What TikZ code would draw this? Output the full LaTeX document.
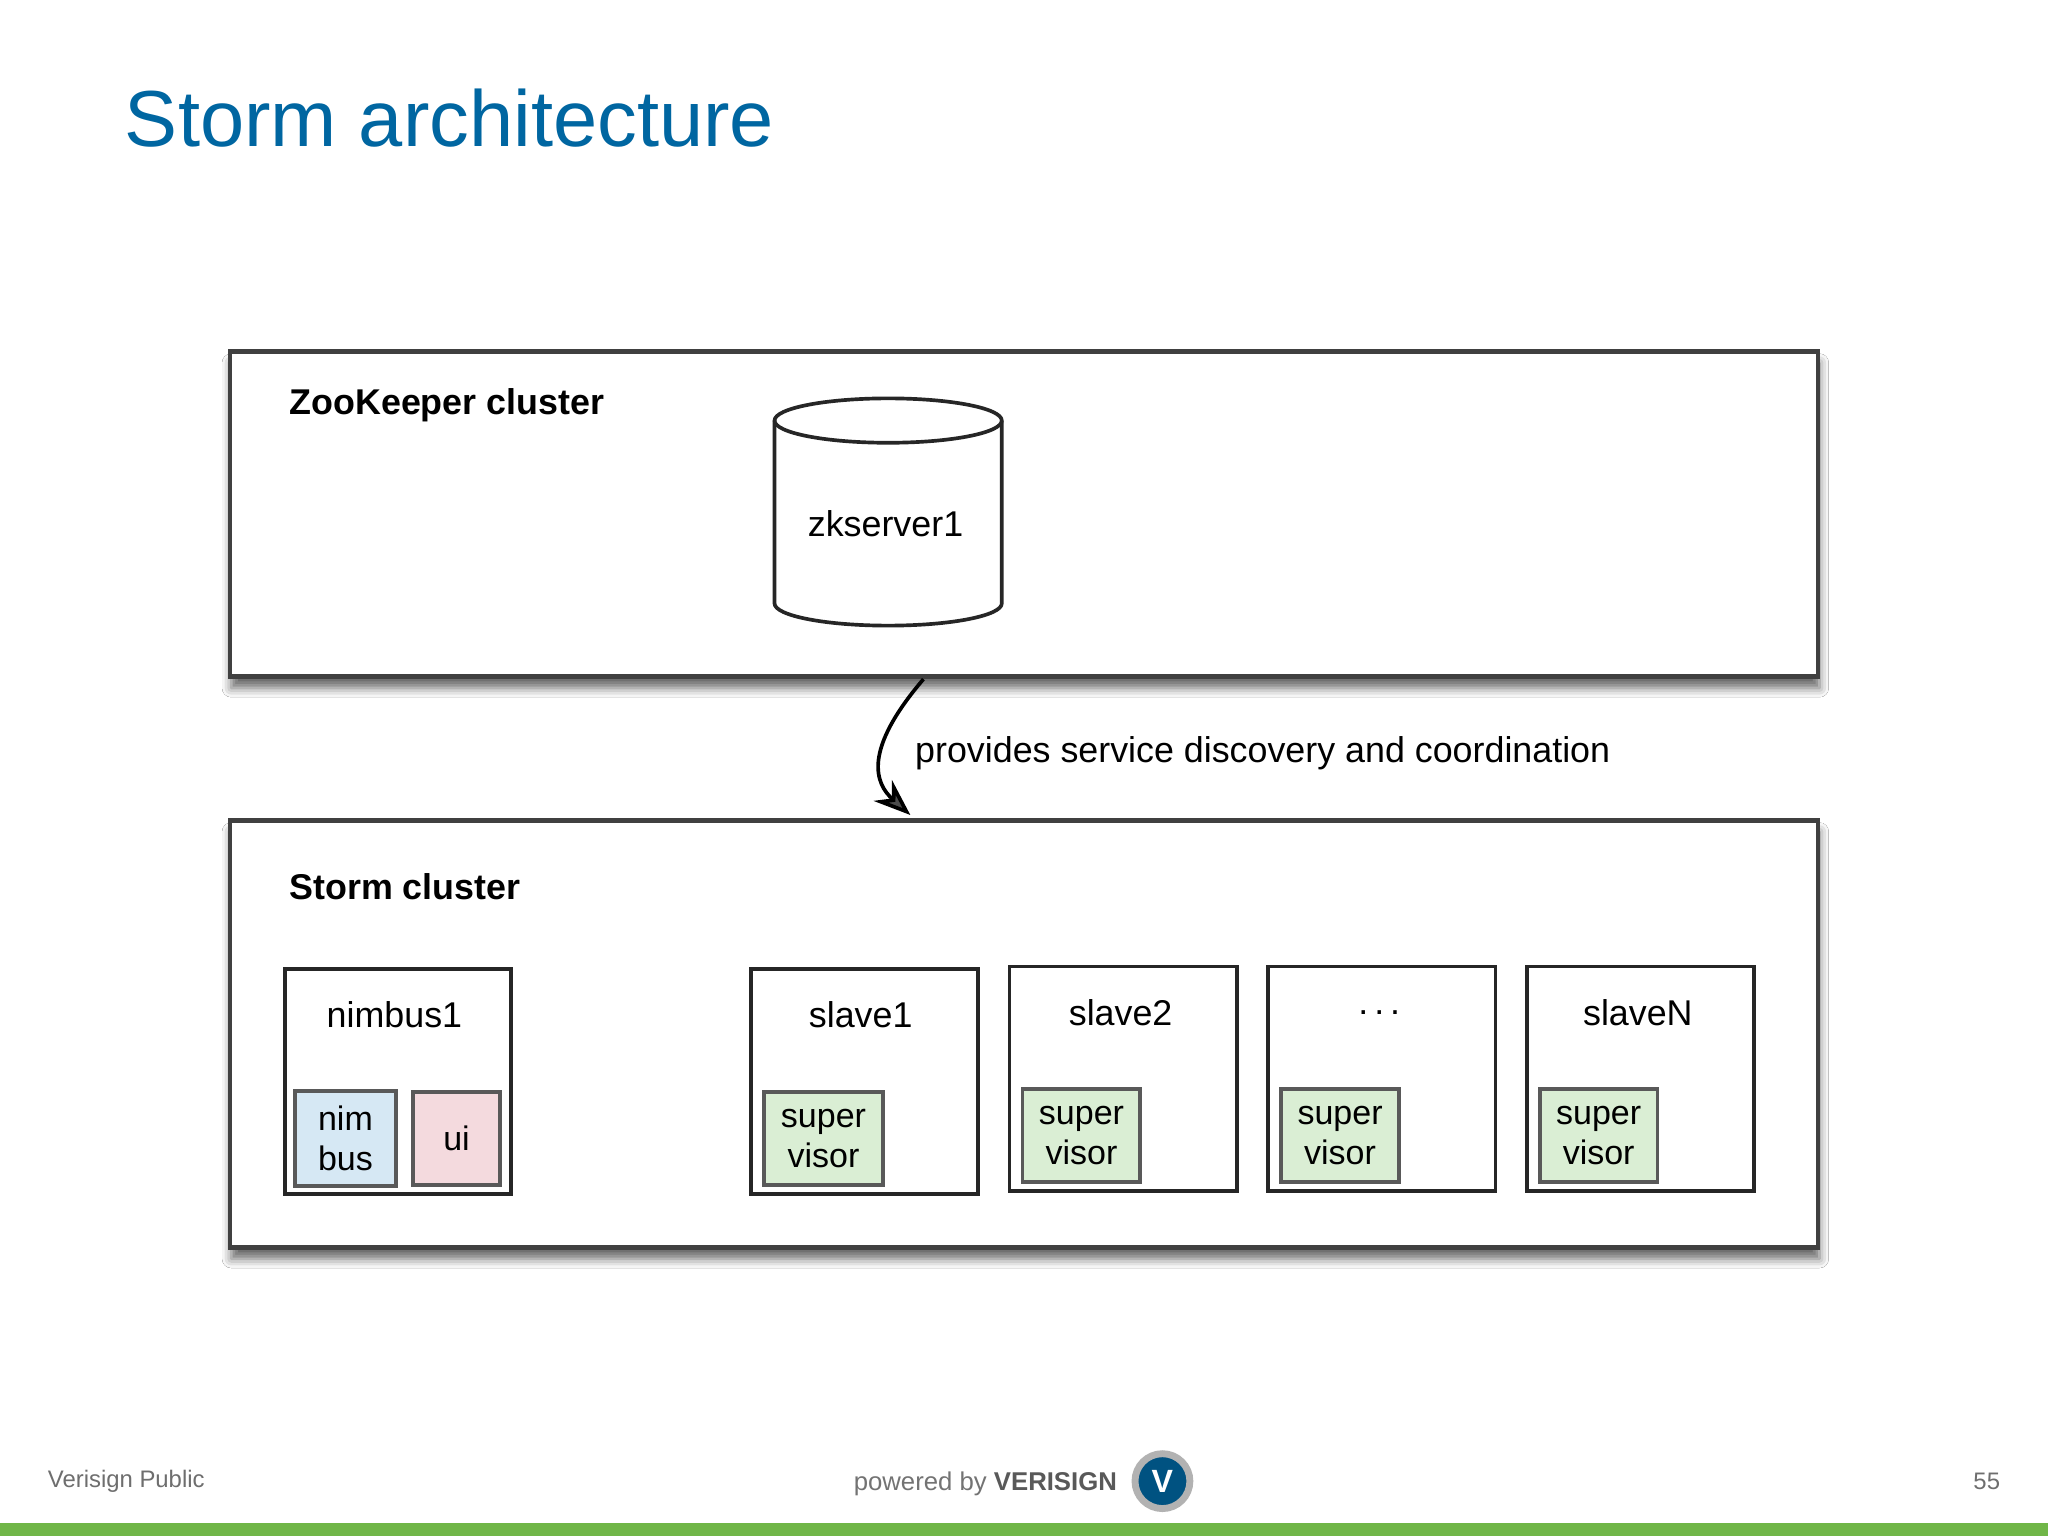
\documentclass[tikz,border=0pt]{standalone}
\usepackage{fontspec}
\setmainfont{Liberation Sans}
\usetikzlibrary{shapes.geometric,arrows.meta,shadows.blur}
\definecolor{ttl}{RGB}{0,102,161}
\definecolor{nimb}{RGB}{214,232,244}
\definecolor{uic}{RGB}{244,218,222}
\definecolor{supc}{RGB}{218,238,212}
\definecolor{grn}{RGB}{112,182,72}
\definecolor{ftr}{RGB}{110,110,110}
\begin{document}
\begin{tikzpicture}[x=0.01cm,y=-0.01cm,
  cluster/.style={draw=black!75,line width=1pt,fill=white,blur shadow={shadow xshift=0.3pt,shadow yshift=-2.5pt,shadow blur radius=2pt,shadow opacity=60}},
  host/.style={draw=black!85,line width=0.8pt,fill=white},
  sub/.style={draw=black!65,line width=0.8pt,align=center,font=\fontsize{7.4pt}{8.6pt}\selectfont},
  lbl/.style={font=\fontsize{7.8pt}{9pt}\selectfont,inner sep=0pt},
  blbl/.style={font=\bfseries\fontsize{7.8pt}{9pt}\selectfont,inner sep=0pt,anchor=west}]
\useasboundingbox (0,0) rectangle (1568,1176);
\fill[white] (0,0) rectangle (1568,1176);
\node[anchor=base west,inner sep=0pt,text=ttl,font=\fontsize{17.3pt}{20pt}\selectfont] (title) at (95,112) {Storm architecture};
% zookeeper
\draw[cluster] (176,269) rectangle (1392,518);
\coordinate (zkbot) at (707,520);
\node[blbl] (zkl) at (221,310) {ZooKeeper cluster};
\draw[draw=black!85,line width=0.8pt,fill=white] (593,322) -- (593,462) arc[start angle=180,end angle=0,x radius=87,y radius=17] -- (767,322) arc[start angle=0,end angle=-180,x radius=87,y radius=17] -- cycle;
\draw[draw=black!85,line width=0.8pt] (593,322) arc[start angle=180,end angle=0,x radius=87,y radius=17];
\node[lbl] (zk) at (678,401) {zkserver1};
% storm cluster
\draw[cluster] (176,628) rectangle (1392,955);
\coordinate (sttop) at (697,624);
\node[blbl] (stl) at (221,679) {Storm cluster};
\draw[-{Stealth[length=8pt,width=6pt]},line width=0.8pt] (zkbot) .. controls (660,575) and (670,600) .. (sttop);
\node[lbl,anchor=west] (prov) at (700,577) {provides service discovery and coordination};
% hosts
\draw[host] (218,742) rectangle (391,914); \node[lbl] (n1) at (302,777) {nimbus1};
\node[sub,fill=nimb,minimum width=0.77cm,minimum height=0.71cm] (nb) at (264.5,871.5) {nim\\bus};
\node[sub,fill=uic,minimum width=0.67cm,minimum height=0.71cm] (ui) at (349.5,871.5) {ui};
\draw[host] (575,742) rectangle (749,914); \node[lbl] (s1) at (659,777) {slave1};
\node[sub,fill=supc,minimum width=0.91cm,minimum height=0.71cm] at (630.5,871.5) {super\\visor};
\foreach \x/\t in {773/slave2,971/{.\,.\,.},1169/slaveN}{
  \draw[host] (\x,740) rectangle (\x+174,912);
  \node[lbl] at (\x+85,775) {\t};
  \node[sub,fill=supc,minimum width=0.9cm,minimum height=0.71cm] at (\x+55,869.5) {super\\visor};
}
% footer
\node[anchor=west,text=ftr,font=\fontsize{5.2pt}{6pt}\selectfont,inner sep=0pt] (vp) at (36,1134) {Verisign Public};
\node[anchor=east,text=ftr,font=\fontsize{5.2pt}{6pt}\selectfont,inner sep=0pt] (pg) at (1532,1134) {55};
\node[anchor=west,text=black!55,font=\fontsize{5.6pt}{6pt}\selectfont,inner sep=0pt] (pw) at (653,1136) {powered by \textbf{\color{black!65}VERISIGN}};
\node[circle,fill=ttl!80!black,draw=black!30,line width=1.5pt,minimum size=0.42cm,inner sep=0pt,text=white,font=\bfseries\fontsize{7pt}{8pt}\selectfont] (logo) at (890,1134) {V};
\fill[grn] (0,1166) rectangle (1568,1176);
\end{tikzpicture}
\end{document}
